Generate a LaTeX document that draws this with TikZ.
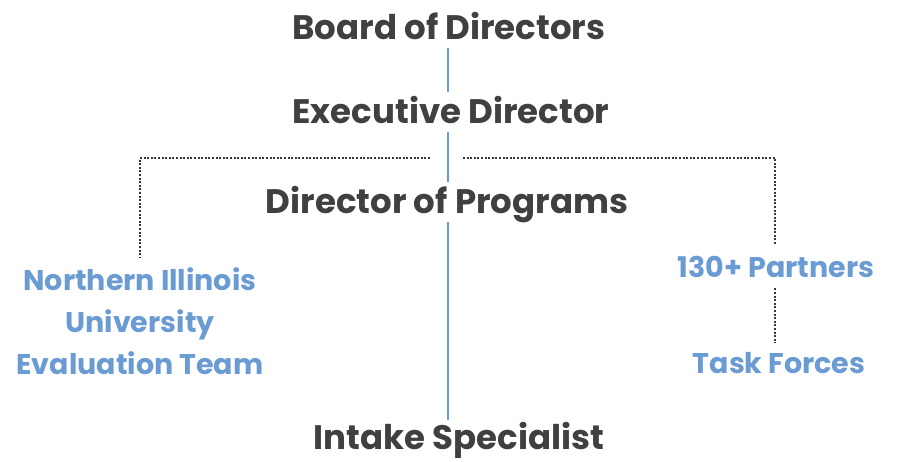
\documentclass[tikz,border=0pt]{standalone}
\usepackage{fontspec}
\setmainfont{Poppins}
\definecolor{txtgray}{RGB}{64,64,64}
\definecolor{dotgray}{RGB}{55,55,55}
\definecolor{orgblue}{RGB}{106,155,210}
\definecolor{lineblue}{RGB}{104,156,214}
\begin{document}
\begin{tikzpicture}[x=1pt,y=-1pt,
  role/.style={anchor=base,inner xsep=0pt,inner ysep=3pt,text height=28pt,text depth=6pt,
    text=txtgray,font=\fontsize{34}{40}\selectfont\bfseries},
  partner/.style={inner sep=0pt,text=orgblue,font=\fontsize{28.5}{42}\selectfont\bfseries},
  spine/.style={draw=lineblue,line width=2pt},
  dots/.style={draw=dotgray,line width=2.6pt,dash pattern=on 2pt off 1.6pt}]
\useasboundingbox (0,0) rectangle (897,461);
\node[role] (board) at (449,39) {Board of Directors};
\node[role] (exec) at (451,123) {Executive Director};
\node[role] (dop) at (447,213) {Director of Programs};
\node[role] (intake) at (459,449) {Intake Specialist};
\node[partner,align=center,anchor=north] (niu) at (140,267) {Northern Illinois\\University\\Evaluation Team};
\node[partner,anchor=base] (partners) at (776,277) {130+ Partners};
\node[partner,anchor=base] (task) at (779,373) {Task Forces};
\coordinate (hl) at (430,158);
\coordinate (hr) at (463,158);
\coordinate (sp) at (448,0);
\coordinate (rc) at (775,0);
\draw[spine] (board.south -| sp) -- (exec.north -| sp);
\draw[spine] (exec.south -| sp) -- (dop.north -| sp);
\draw[spine] (dop.south -| sp) -- ([yshift=-2pt]intake.north -| sp);
\draw[dots] (hl) -| ([yshift=9pt]niu.north);
\draw[dots] (hr) -| ([yshift=11pt]partners.north -| rc);
\draw[dots] ([yshift=-11pt]partners.south -| rc) -- ([yshift=9pt]task.north -| rc);
\end{tikzpicture}
\end{document}
